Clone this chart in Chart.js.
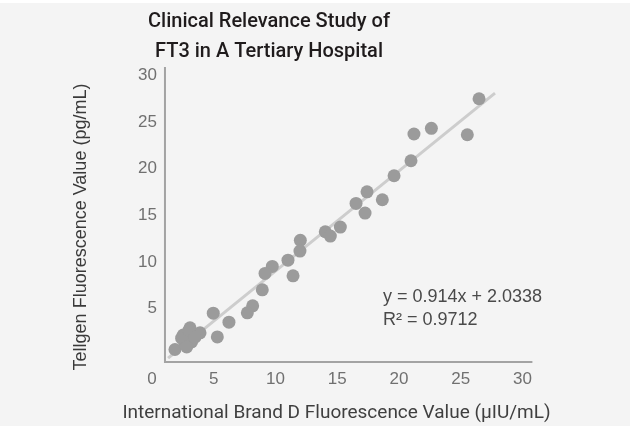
<!DOCTYPE html>
<html>
<head>
<meta charset="utf-8">
<script src="https://cdn.jsdelivr.net/npm/chart.js@4"></script>
<style>
  html, body { margin: 0; padding: 0; background: #f4f4f4; }
  canvas { display: block; }
</style>
</head>
<body>
<canvas id="chart" width="630" height="426"></canvas>
<script>
(function () {
    "use strict";

    // Data
    const brandD = [
        26.48, 21.21, 22.62, 25.53, 20.97, 19.6, 17.41, 16.52, 18.65, 17.25,
        15.25, 14.03, 14.44, 12.01, 11.98, 11.01, 11.42, 9.74, 9.15, 8.93,
        8.15, 7.72, 6.23, 4.96, 5.29, 3.89, 3.08, 1.86, 2.53, 2.67,
        3.21, 2.4, 2.81, 3.0, 3.48,
    ];
    const tellgen = [
        27.5, 23.72, 24.33, 23.64, 20.86, 19.25, 17.53, 16.29, 16.68, 15.25,
        13.75, 13.25, 12.79, 12.33, 11.18, 10.21, 8.53, 9.54, 8.79, 7.03,
        5.32, 4.57, 3.57, 4.53, 1.99, 2.42, 2.96, 0.64, 2.18, 1.29,
        1.46, 1.85, 0.92, 2.71, 1.96,
    ];
    const trendX = [1.3, 27.77];
    const trendY = [-0.29, 28.1];
    const xTicks = [0, 5, 10, 15, 20, 25, 30];
    const yTicks = [5, 10, 15, 20, 25, 30];

    const titleLines = ["Clinical Relevance Study of", "FT3 in A Tertiary Hospital"];
    const xTitle = "International Brand D Fluorescence Value (\u03bcIU/mL)";
    const yTitle = "Tellgen Fluorescence Value (pg/mL)";
    const equation = ["y = 0.914x + 2.0338", "R\u00b2 = 0.9712"];

    const points = brandD.map((x, i) => ({ x: x, y: tellgen[i] }));
    const trend = trendX.map((x, i) => ({ x: x, y: trendY[i] }));

    // Background, axis frame and text
    const decor = {
        id: "decor",
        beforeDraw(chart) {
            const ctx = chart.ctx;
            ctx.save();
            ctx.fillStyle = "#f4f4f4";
            ctx.fillRect(0, 0, chart.width, chart.height);
            ctx.fillStyle = "#ffffff";
            ctx.fillRect(0, 0, chart.width, 3);
            ctx.restore();
        },
        beforeDatasetsDraw(chart) {
            const ctx = chart.ctx;
            const area = chart.chartArea;
            const x0 = chart.scales.x.getPixelForValue(1.05);
            ctx.save();
            ctx.strokeStyle = "#a3a3a3";
            ctx.lineWidth = 2;
            ctx.beginPath();
            ctx.moveTo(x0, area.top);
            ctx.lineTo(x0, area.bottom);
            ctx.lineTo(area.right, area.bottom);
            ctx.stroke();
            ctx.restore();
        },
        afterDraw(chart) {
            const ctx = chart.ctx;
            ctx.save();
            ctx.textAlign = "center";
            ctx.textBaseline = "middle";

            ctx.fillStyle = "#1f1b1c";
            ctx.font = "500 20px Roboto";
            ctx.fillText(titleLines[0], 269, 22);
            ctx.fillText(titleLines[1], 269, 52);

            ctx.fillStyle = "#3f3f3f";
            ctx.font = "19px Roboto";
            ctx.fillText(xTitle, 336.5, 413);

            ctx.save();
            ctx.translate(81, 227);
            ctx.rotate(-Math.PI / 2);
            ctx.fillStyle = "#3a3a3a";
            ctx.font = "18px 'Liberation Sans'";
            ctx.fillText(yTitle, 0, 0);
            ctx.restore();

            ctx.textAlign = "left";
            ctx.fillStyle = "#4a4a4a";
            ctx.font = "18px 'Liberation Sans'";
            ctx.fillText(equation[0], 383, 297);
            ctx.fillText(equation[1], 383, 320);
            ctx.restore();
        },
    };

    const ctx = document.getElementById("chart").getContext("2d");
    new Chart(ctx, {
        type: "scatter",
        data: {
            datasets: [
                {
                    label: "Samples",
                    data: points,
                    backgroundColor: "#9b9b9b",
                    borderWidth: 0,
                    pointRadius: 6.5,
                    pointHoverRadius: 6.5,
                },
                {
                    type: "line",
                    label: "Trend",
                    data: trend,
                    borderColor: "#cdcdcd",
                    borderWidth: 3,
                    pointRadius: 0,
                    fill: false,
                },
            ],
        },
        options: {
            responsive: false,
            animation: false,
            layout: {
                padding: { left: 0, right: 97.6, top: 67, bottom: 0 },
            },
            plugins: {
                legend: { display: false },
                tooltip: { enabled: false },
                title: { display: false },
            },
            scales: {
                x: {
                    type: "linear",
                    min: 0.405,
                    max: 30.8,
                    afterBuildTicks: (scale) => {
                        scale.ticks = xTicks.map((v) => ({ value: v }));
                    },
                    afterFit: (scale) => {
                        scale.height = 64;
                    },
                    ticks: {
                        color: "#707070",
                        font: { family: "'Liberation Sans'", size: 17 },
                        padding: 7,
                        maxRotation: 0,
                        autoSkip: false,
                    },
                    grid: { display: false, drawTicks: false },
                    border: { display: false },
                },
                y: {
                    type: "linear",
                    min: -0.7,
                    max: 30.9,
                    afterBuildTicks: (scale) => {
                        scale.ticks = yTicks.map((v) => ({ value: v }));
                    },
                    afterFit: (scale) => {
                        scale.width = 157;
                    },
                    ticks: {
                        color: "#707070",
                        font: { family: "'Liberation Sans'", size: 17 },
                        padding: 0,
                        autoSkip: false,
                    },
                    grid: { display: false, drawTicks: false },
                    border: { display: false },
                },
            },
        },
        plugins: [decor],
    });
})();
</script>
</body>
</html>
